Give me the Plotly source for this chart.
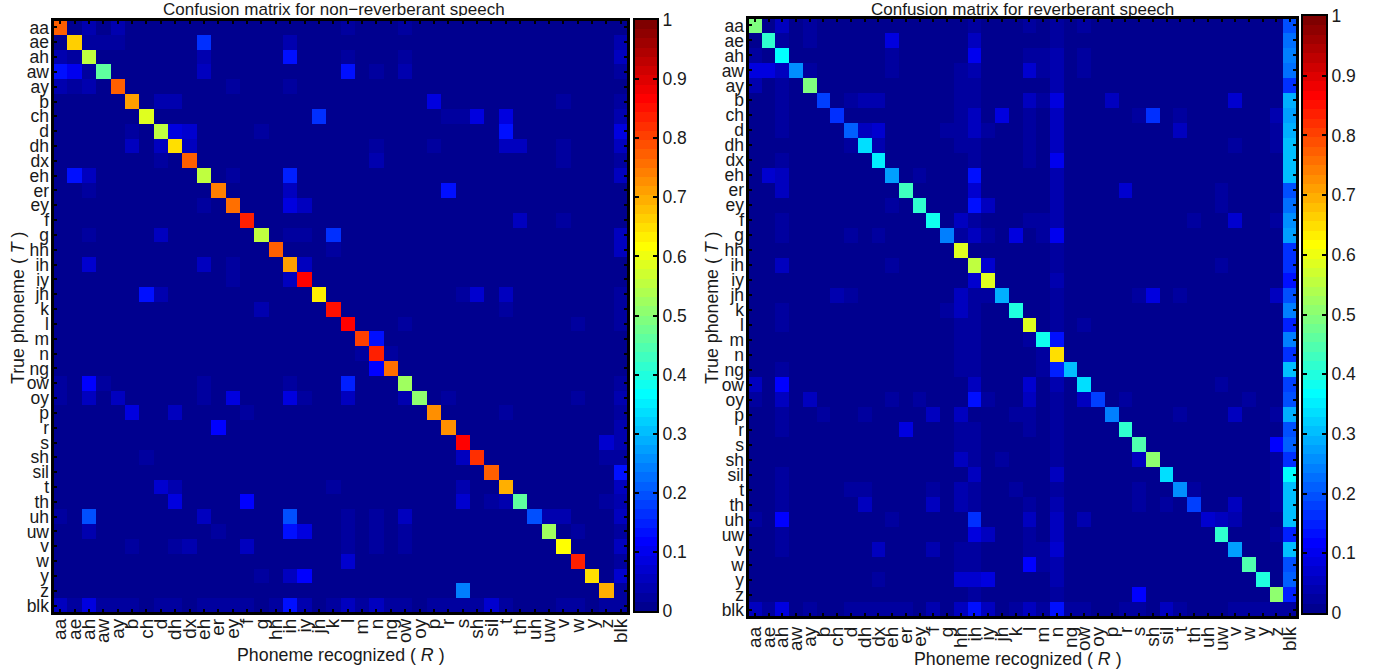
import numpy as np
import plotly.graph_objects as go

W, H = 1378, 669
phonemes = ["aa","ae","ah","aw","ay","b","ch","d","dh","dx","eh","er","ey","f","g","hh","ih","iy","jh","k","l",
            "m","n","ng","ow","oy","p","r","s","sh","sil","t","th","uh","uw","v","w","y","z","blk"]

diag_clean = [.77,.67,.56,.46,.77,.71,.59,.56,.65,.77,.55,.74,.76,.84,.55,.77,.71,.86,.63,.85,.87,
              .81,.83,.76,.52,.50,.73,.72,.86,.82,.77,.70,.46,.20,.52,.62,.83,.65,.69,.03]
diag_rev = [.49,.42,.37,.25,.49,.18,.16,.21,.34,.35,.28,.43,.41,.38,.24,.58,.55,.58,.29,.40,.59,
            .39,.65,.31,.33,.18,.24,.41,.45,.50,.33,.25,.18,.07,.42,.28,.44,.40,.51,.03]
blk_rev = [.20,.22,.24,.22,.17,.29,.27,.29,.31,.31,.30,.19,.23,.25,.27,.16,.16,.14,.20,.24,.15,
           .24,.16,.31,.18,.19,.29,.19,.21,.16,.37,.31,.31,.31,.15,.30,.20,.21,.15]
blk_clean = [.01,.04,.05,.02,.015,.02,.04,.08,.06,.03,.05,.01,.01,.01,.05,.05,.01,.01,.02,.02,.02,
             .01,.01,.01,.025,.04,.02,.04,.04,.03,.14,.05,.04,.05,.02,.05,.02,.07,.02]

off_clean = {
 "aa":{"ah":.04,"aw":.015,"ay":.04,"l":.03,"ow":.03},
 "ae":{"aa":.01,"ah":.02,"aw":.02,"ay":.02,"eh":.17,"ih":.04},
 "ah":{"aa":.04,"ae":.02,"eh":.04,"ih":.13,"l":.03,"ow":.03},
 "aw":{"aa":.13,"ae":.10,"ah":.02,"eh":.06,"l":.14,"n":.02,"ow":.045},
 "ay":{"aa":.04,"ae":.02,"ah":.04,"ey":.03,"ih":.03},
 "b":{"d":.04,"dh":.04,"p":.09,"v":.03},
 "ch":{"jh":.16,"r":.02,"s":.02,"sh":.08,"t":.08},
 "d":{"b":.03,"dh":.08,"dx":.07,"g":.03,"t":.13},
 "dh":{"b":.05,"d":.05,"dx":.05,"n":.03,"p":.03,"t":.05,"th":.05,"v":.03},
 "dx":{"d":.02,"n":.04,"v":.02},
 "eh":{"ae":.13,"ah":.05,"ey":.03,"ih":.15},
 "er":{"ah":.03,"ih":.05,"r":.13},
 "ey":{"eh":.03,"ih":.08,"iy":.06},
 "f":{"th":.05,"v":.03},
 "g":{"ah":.03,"d":.05,"ih":.03,"iy":.02,"k":.17},
 "hh":{"k":.03},
 "ih":{"ah":.07,"eh":.06,"ey":.03,"iy":.05},
 "iy":{"ey":.03,"ih":.06},
 "jh":{"ch":.14,"d":.04,"s":.03,"sh":.07,"t":.05},
 "k":{"g":.04,"t":.03},
 "l":{"ow":.03,"w":.02},
 "m":{"n":.13},
 "n":{"m":.03,"ng":.03},
 "ng":{"n":.12},
 "ow":{"aa":.03,"ah":.12,"aw":.02,"eh":.03,"ih":.03,"l":.15},
 "oy":{"aa":.03,"ah":.05,"ay":.05,"eh":.03,"ey":.08,"ih":.09,"iy":.03,"l":.05,"ow":.04,"r":.02,"w":.03},
 "p":{"b":.09,"dh":.05,"f":.03,"t":.03},
 "r":{"er":.12},
 "s":{"z":.07},
 "sh":{"ch":.02,"s":.05,"z":.03},
 "sil":{},
 "t":{"d":.07,"dh":.04,"k":.03,"s":.04},
 "th":{"dh":.08,"f":.11,"s":.07,"sil":.03,"t":.04,"z":.03},
 "uh":{"aa":.03,"ah":.20,"eh":.05,"ih":.20,"l":.03,"n":.03,"ow":.06,"uw":.04,"v":.04},
 "uw":{"ah":.04,"er":.03,"ih":.14,"iy":.08,"l":.03,"n":.03,"ow":.03,"w":.03},
 "v":{"b":.03,"dh":.03,"dx":.04,"f":.05,"l":.03,"n":.02,"ow":.03},
 "w":{"l":.07},
 "y":{"g":.02,"ih":.05,"iy":.12},
 "z":{"s":.24},
 "blk":{"aa":.06,"ae":.03,"ah":.08,"aw":.02,"ay":.03,"b":.03,"ch":.01,"d":.02,"dh":.03,"dx":.01,"eh":.03,"er":.03,
        "ey":.03,"f":.03,"g":.01,"hh":.025,"ih":.13,"iy":.04,"jh":.01,"k":.025,"l":.05,"m":.03,"n":.06,"ng":.02,
        "ow":.03,"oy":.01,"p":.02,"r":.03,"s":.03,"sh":.02,"sil":.07,"t":.03,"th":.01,"uh":.01,"uw":.01,"v":.025,
        "w":.025,"y":.01,"z":.02},
}
off_rev = {
 "aa":{"ah":.06,"ay":.02,"ih":.02,"l":.03,"n":.03,"ow":.02},
 "ae":{"ah":.03,"ay":.03,"eh":.08,"ih":.06,"n":.03},
 "ah":{"aa":.03,"eh":.03,"hh":.01,"ih":.10,"l":.03,"m":.02,"n":.04,"ow":.025},
 "aw":{"aa":.08,"ae":.08,"ah":.05,"ay":.03,"eh":.03,"hh":.02,"ih":.04,"l":.07,"m":.03,"n":.04,"ow":.03},
 "ay":{"aa":.04,"ah":.03,"hh":.02,"ih":.03,"n":.04},
 "b":{"ah":.03,"d":.03,"dh":.045,"dx":.045,"hh":.02,"ih":.03,"l":.06,"m":.03,"n":.09,"p":.06,"v":.07},
 "ch":{"ah":.03,"hh":.03,"ih":.05,"jh":.08,"l":.02,"n":.05,"s":.03,"sh":.16,"t":.03,"z":.04},
 "d":{"ah":.03,"g":.025,"hh":.02,"ih":.05,"iy":.02,"l":.03,"dh":.06,"dx":.07,"n":.06,"t":.06,"z":.03},
 "dh":{"d":.03,"dx":.04,"hh":.02,"ih":.02,"l":.025,"n":.06,"v":.03,"z":.03},
 "dx":{"ah":.03,"hh":.015,"ih":.02,"l":.02,"n":.10},
 "eh":{"ae":.07,"ah":.05,"ey":.03,"ih":.13,"n":.04},
 "er":{"ah":.05,"ih":.07,"n":.04,"r":.07,"uw":.02},
 "ey":{"eh":.03,"ih":.13,"iy":.05,"n":.04,"uw":.02},
 "f":{"ah":.03,"hh":.05,"ih":.025,"iy":.015,"l":.03,"m":.02,"n":.04,"th":.03,"v":.07,"z":.03},
 "g":{"ah":.03,"d":.02,"dx":.02,"hh":.03,"ih":.05,"iy":.03,"k":.08,"m":.03,"n":.10},
 "hh":{"n":.03},
 "ih":{"ah":.06,"eh":.03,"iy":.07,"n":.025,"uw":.02},
 "iy":{"ih":.07,"n":.04},
 "jh":{"ch":.04,"d":.03,"hh":.05,"ih":.03,"iy":.03,"n":.03,"s":.03,"sh":.09,"t":.025,"z":.05},
 "k":{"ah":.03,"g":.025,"hh":.05,"ih":.03,"n":.03,"t":.015},
 "l":{"ah":.03,"hh":.02,"ih":.02,"n":.03,"ow":.02},
 "m":{"hh":.02,"ih":.02,"l":.03,"n":.13},
 "n":{"hh":.02,"ih":.02,"m":.03},
 "ng":{"ah":.03,"hh":.02,"ih":.02,"iy":.015,"m":.03,"n":.15},
 "ow":{"aa":.05,"ah":.12,"ih":.05,"iy":.01,"l":.07,"n":.04,"uw":.03},
 "oy":{"aa":.03,"ah":.06,"ay":.05,"eh":.03,"ey":.03,"ih":.13,"iy":.03,"l":.05,"n":.03,"ow":.05,"r":.02,"w":.03},
 "p":{"ah":.03,"b":.03,"dh":.02,"f":.05,"hh":.06,"k":.02,"l":.02,"n":.03,"t":.02,"v":.05,"z":.025},
 "r":{"ah":.03,"er":.09,"hh":.02,"ih":.02,"l":.025,"n":.03},
 "s":{"hh":.02,"ih":.02,"n":.02,"z":.12},
 "sh":{"hh":.05,"ih":.02,"jh":.03,"n":.02,"s":.06,"z":.02},
 "sil":{"ah":.025,"ih":.05,"n":.06,"z":.02},
 "t":{"ah":.03,"d":.03,"dh":.03,"f":.03,"hh":.04,"ih":.02,"k":.02,"n":.03,"s":.03,"th":.025,"z":.03},
 "th":{"ah":.03,"dh":.06,"f":.05,"hh":.04,"ih":.02,"iy":.015,"l":.02,"n":.04,"s":.02,"sil":.025,"v":.05,"z":.03},
 "uh":{"aa":.025,"ah":.12,"eh":.03,"ih":.16,"l":.05,"n":.05,"ow":.04,"uw":.05,"v":.04},
 "uw":{"ah":.03,"ih":.09,"iy":.06,"l":.02,"n":.05,"z":.03},
 "v":{"ah":.03,"dx":.05,"f":.04,"hh":.02,"ih":.02,"l":.03,"m":.02,"n":.07},
 "w":{"hh":.02,"ih":.025,"l":.11,"m":.03,"n":.04},
 "y":{"dx":.03,"hh":.07,"ih":.07,"iy":.09,"n":.04},
 "z":{"hh":.01,"ih":.02,"n":.03,"s":.12},
 "blk":{"aa":.05,"ae":.03,"ah":.09,"ay":.03,"b":.01,"d":.02,"dh":.02,"dx":.03,"eh":.03,"er":.03,"f":.04,"hh":.05,
        "ih":.14,"iy":.05,"k":.02,"l":.06,"m":.03,"n":.13,"ng":.02,"ow":.03,"oy":.01,"r":.02,"s":.02,"sh":.01,
        "sil":.05,"t":.03,"v":.03,"w":.03,"y":.03,"z":.03},
}
cbar_ticks = [0,.1,.2,.3,.4,.5,.6,.7,.8,.9,1]
cbar_ticktext = ["0","0.1","0.2","0.3","0.4","0.5","0.6","0.7","0.8","0.9","1"]

def build(diag, off, blk):
    n = len(phonemes)
    idx = {p:i for i,p in enumerate(phonemes)}
    m = [[0.0]*n for _ in range(n)]
    for i in range(n):
        m[i][i] = diag[i]
    for i in range(n-1):
        m[i][n-1] = blk[i]
    for row, cols in off.items():
        for col, v in cols.items():
            m[idx[row]][idx[col]] = v
    return m

def jet64():
    out = []
    for i in range(64):
        t = (i+1)/64
        r = np.clip(min(4*t-1.5, -4*t+4.5),0,1)
        g = np.clip(min(4*t-0.5, -4*t+3.5),0,1)
        b = np.clip(min(4*t+0.5, -4*t+2.5),0,1)
        out.append(f"rgb({int(r*255)},{int(g*255)},{int(b*255)})")
    cs = []
    for i,c in enumerate(out):
        cs += [[i/64,c],[(i+1)/64,c]]
    return cs

JET = jet64()
FONT = "Liberation Sans, Arial, sans-serif"
INK = "#1a1a1a"
TICK = 17.5
XTICK = 19
LINE = 2
n_ph = len(phonemes)

fig = go.Figure()

def px(x): return x/W
def py(y): return 1-y/H

panels = [
    dict(n="", cb="3", fr="5", z=build(diag_clean, off_clean, blk_clean), box=(53,628,20,613), cbox=(635,657,20,611), xoff=1),
    dict(n="2", cb="4", fr="6", z=build(diag_rev, off_rev, blk_rev), box=(748,1297,18,617), cbox=(1303,1326,16,613), xoff=5),
]
layout = {}
shapes = []
for p in panels:
    fig.add_trace(go.Heatmap(z=p["z"], x=phonemes, y=phonemes, zmin=0, zmax=1, colorscale=JET, showscale=False,
                             xaxis="x"+p["n"], yaxis="y"+p["n"]))
    l,r,t,b = p["box"]
    shapes.append(dict(type="rect", xref="paper", yref="paper", x0=px(l), x1=px(r), y0=py(b), y1=py(t), layer="above",
                       line=dict(color="black", width=2), fillcolor="rgba(0,0,0,0)"))
    layout["xaxis"+p["n"]] = dict(domain=[px(l),px(r)], anchor="y"+p["n"], type="category", tickmode="array",
        tickvals=phonemes, ticktext=phonemes, tickangle=-90, ticks="", ticklabelstandoff=p["xoff"],
        showline=False, showgrid=False, zeroline=False, tickfont=dict(family=FONT,size=XTICK,color=INK))
    layout["yaxis"+p["n"]] = dict(domain=[py(b),py(t)], anchor="x"+p["n"], type="category", tickmode="array",
        tickvals=phonemes, ticktext=phonemes, autorange="reversed", ticks="", ticklabelstandoff=3,
        showline=False, showgrid=False, zeroline=False, tickfont=dict(family=FONT,size=TICK,color=INK))
    # frame and inward ticks on all four sides, on a transparent axes pair above the matrix
    fig.add_trace(go.Scatter(x=[0], y=[0], mode="markers", marker=dict(opacity=0), hoverinfo="skip", showlegend=False,
                             xaxis="x"+p["fr"], yaxis="y"+p["fr"]))
    frame = dict(showticklabels=False, ticks="inside", ticklen=4, tickwidth=1.5, tickcolor="black", tickmode="linear",
                 tick0=0, dtick=1, showline=True, linecolor="black", linewidth=LINE, mirror="ticks",
                 showgrid=False, zeroline=False)
    layout["xaxis"+p["fr"]] = dict(domain=[px(l),px(r)], anchor="y"+p["fr"], range=[-.5,n_ph-.5], **frame)
    layout["yaxis"+p["fr"]] = dict(domain=[py(b),py(t)], anchor="x"+p["fr"], range=[n_ph-.5,-.5], **frame)
    # colour bar drawn as its own axes so ticks sit on both edges, as in the reference
    levels = [(i+.5)/64 for i in range(64)]
    fig.add_trace(go.Heatmap(z=[[v] for v in levels], y=levels, x=[0], zmin=0, zmax=1, colorscale=JET, showscale=False,
                             xaxis="x"+p["cb"], yaxis="y"+p["cb"], hoverinfo="skip"))
    l,r,t,b = p["cbox"]
    layout["xaxis"+p["cb"]] = dict(domain=[px(l),px(r)], anchor="y"+p["cb"], showticklabels=False, ticks="",
        showline=True, linecolor="black", linewidth=LINE, mirror=True, showgrid=False, zeroline=False, range=[-.5,.5])
    layout["yaxis"+p["cb"]] = dict(domain=[py(b),py(t)], anchor="x"+p["cb"], side="right", range=[0,1], tickmode="array",
        tickvals=cbar_ticks, ticktext=cbar_ticktext, ticks="inside", ticklen=4, tickwidth=1.5, tickcolor="black",
        showline=True, linecolor="black", linewidth=LINE, mirror="ticks", showgrid=False, zeroline=False,
        tickfont=dict(family=FONT,size=TICK,color=INK))

def note(text,x,y,size=16,angle=0,**kw):
    return dict(text=text,x=px(x),y=py(y),xref="paper",yref="paper",showarrow=False,textangle=angle,
                xanchor="center",yanchor="middle",font=dict(family=FONT,size=size,color=INK),**kw)
annotations = [
    note("Confusion matrix for non\u2212reverberant speech",334,9,size=17,height=14,borderpad=0),
    note("Confusion matrix for reverberant speech",1022,9,size=17,height=14,borderpad=0),
    note("Phoneme recognized ( <i>R</i> )",341,655,size=17.8),
    note("Phoneme recognized ( <i>R</i> )",1018,659,size=17.8),
    note("True phoneme ( <i>T</i> )",18,308,size=17.8,angle=-90),
    note("True phoneme ( <i>T</i> )",712,308,size=17.8,angle=-90),
]
fig.update_layout(width=W,height=H,margin=dict(l=0,r=0,t=0,b=0,autoexpand=False),autosize=False,paper_bgcolor="white",plot_bgcolor="rgba(0,0,0,0)",
                  annotations=annotations,shapes=shapes,showlegend=False,**layout)
fig.write_html("out.html", config={"displayModeBar":False},
               post_script="document.body.style.margin='0';document.body.style.overflow='hidden';")
